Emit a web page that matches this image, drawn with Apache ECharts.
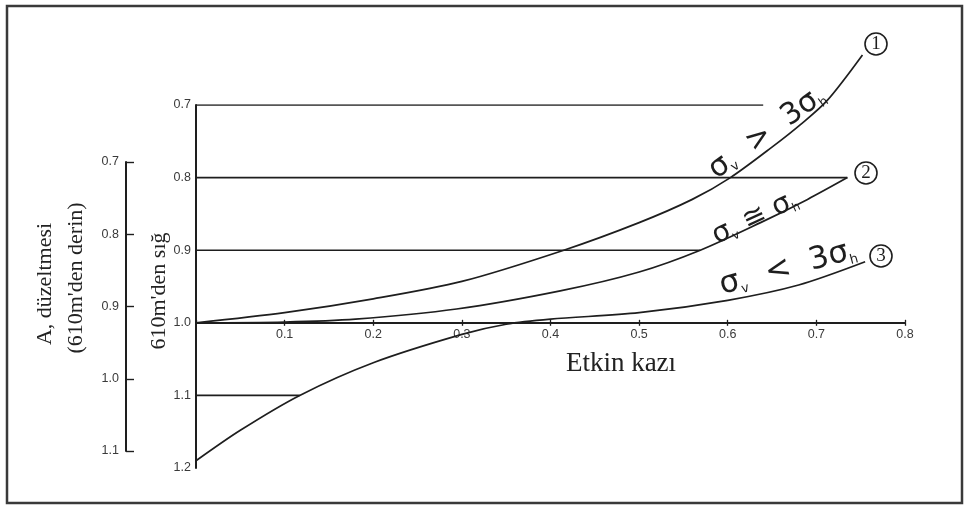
<!DOCTYPE html>
<html>
<head>
<meta charset="utf-8">
<script src="https://cdn.jsdelivr.net/npm/echarts@6/dist/echarts.min.js"></script>
<style>
  html, body { margin: 0; padding: 0; background: #fff; }
  #chart { width: 968px; height: 506px; }
</style>
</head>
<body>
<div id="chart"></div>
<script>
// Effective excavation axis (Etkin kazı)
const xMin = 0, xMax = 0.8, xStep = 0.1;
// Correction factor scale for depths shallower than 610 m
const yMainMin = 0.7, yMainMax = 1.2, yStep = 0.1;
// Correction factor scale for depths deeper than 610 m
const yDeepMin = 0.7, yDeepMax = 1.1;
const baseValue = 1.0;

// Horizontal reading lines: level and where each one stops on the x scale
const levelValues = [0.7, 0.8, 0.9, 1.1];
const levelEnds = [0.64, 0.735, 0.569, 0.117];

// Curve 1: σv > 3σh
const curve1 = [[0, 1.0], [0.1, 0.986], [0.2, 0.967], [0.3, 0.943], [0.415, 0.9], [0.5, 0.862],
  [0.56, 0.83], [0.603, 0.8], [0.651, 0.757], [0.682, 0.727], [0.712, 0.694], [0.752, 0.631]];
// Curve 2: σv ≅ σh
const curve2 = [[0, 1.0], [0.1, 0.999], [0.18, 0.995], [0.294, 0.981], [0.411, 0.956], [0.5, 0.93],
  [0.569, 0.9], [0.637, 0.862], [0.69, 0.83], [0.735, 0.8]];
// Curve 3: σv < 3σh
const curve3 = [[0, 1.19], [0.05, 1.148], [0.117, 1.1], [0.2, 1.055], [0.3, 1.016], [0.35, 1.002],
  [0.4, 0.995], [0.5, 0.986], [0.6, 0.969], [0.68, 0.948], [0.755, 0.916]];

const xTitle = 'Etkin kazı';
const leftTitle1 = 'A, düzeltmesi';
const leftTitle2 = "(610m'den derin)";
const leftTitle3 = "610m'den sığ";

const ink = '#1e1e1e';
const tickFont = { fontSize: 12.5, color: '#3a3a3a', fontFamily: 'Liberation Sans' };
const mainGrid = { left: 196, top: 105, width: 709, height: 363 };
const deepGrid = { left: 126, top: 162, width: 20, height: 289 };

// pixel offsets placing the x axis on the 1.0 level of the main scale
const offBottom = -(yMainMax - baseValue) / (yMainMax - yMainMin) * mainGrid.height;
const offTop = -(baseValue - yMainMin) / (yMainMax - yMainMin) * mainGrid.height;

const fmt = v => v.toFixed(1);

const levelSeries = levelValues.map((lv, i) => ({
  type: 'line', xAxisIndex: 0, yAxisIndex: 0, silent: true, symbol: 'none',
  lineStyle: { color: ink, width: 1.6 },
  data: [[xMin, lv], [levelEnds[i], lv]]
}));

const curveSeries = [curve1, curve2, curve3].map(c => ({
  type: 'line', xAxisIndex: 0, yAxisIndex: 0, silent: true, symbol: 'none', clip: false,
  smooth: 0.3, lineStyle: { color: ink, width: 1.7 }, data: c
}));

const sigmaRich = size => ({
  g: { fontSize: size, fontFamily: 'DejaVu Sans', fill: ink },
  u: { fontSize: Math.round(size * 0.42), fontFamily: 'DejaVu Sans', fill: ink, verticalAlign: 'bottom' }
});

function curveLabel(text, x, y, deg, size) {
  return {
    type: 'text', x: x, y: y, rotation: deg * Math.PI / 180, silent: true,
    style: { text: text, rich: sigmaRich(size), align: 'center', verticalAlign: 'middle' }
  };
}

function circleTag(num, x, y) {
  return {
    type: 'text', x: x, y: y, silent: true,
    style: {
      text: num, fontSize: 19, fontFamily: 'Liberation Serif', fill: ink,
      width: 22, height: 22, lineHeight: 22, align: 'center', verticalAlign: 'middle',
      borderColor: ink, borderWidth: 1.6, borderRadius: 12
    }
  };
}

function verticalTitle(text, x, y) {
  return {
    type: 'text', x: x, y: y, rotation: Math.PI / 2, silent: true,
    style: { text: text, fontSize: 22, fontFamily: 'Liberation Serif', fill: '#222', align: 'center', verticalAlign: 'middle' }
  };
}

const option = {
  animation: false,
  backgroundColor: '#fff',
  grid: [
    Object.assign({}, mainGrid, { containLabel: false }),
    Object.assign({}, deepGrid, { containLabel: false })
  ],
  xAxis: [
    {
      gridIndex: 0, type: 'value', min: xMin, max: xMax, interval: xStep,
      position: 'bottom', offset: offBottom,
      axisLine: { show: true, lineStyle: { color: ink, width: 2 } },
      axisTick: { show: true, length: 3, lineStyle: { color: ink, width: 1.3 } },
      axisLabel: Object.assign({ showMinLabel: false, formatter: fmt, margin: 5 }, tickFont),
      splitLine: { show: false }
    },
    {
      gridIndex: 0, type: 'value', min: xMin, max: xMax, interval: xStep,
      position: 'top', offset: offTop,
      axisLine: { show: false },
      axisTick: { show: true, length: 3, lineStyle: { color: ink, width: 1.3 } },
      axisLabel: { show: false },
      splitLine: { show: false }
    },
    { gridIndex: 1, type: 'value', show: false, min: 0, max: 1 }
  ],
  yAxis: [
    {
      gridIndex: 0, type: 'value', inverse: true, min: yMainMin, max: yMainMax, interval: yStep,
      axisLine: { show: true, lineStyle: { color: ink, width: 2 } },
      axisTick: { show: false },
      axisLabel: Object.assign({ formatter: fmt, margin: 5 }, tickFont),
      splitLine: { show: false }
    },
    {
      gridIndex: 1, type: 'value', inverse: true, min: yDeepMin, max: yDeepMax, interval: yStep,
      position: 'left',
      axisLine: { show: true, lineStyle: { color: ink, width: 2 } },
      axisTick: { show: true, inside: true, length: 8, lineStyle: { color: ink, width: 1.4 } },
      axisLabel: Object.assign({ formatter: fmt, margin: 7 }, tickFont),
      splitLine: { show: false }
    }
  ],
  series: levelSeries.concat(curveSeries),
  graphic: [
    { type: 'rect', silent: true, shape: { x: 7, y: 6, width: 955, height: 497 },
      style: { fill: 'none', stroke: '#3a3a3a', lineWidth: 2.5 } },
    { type: 'text', x: 621, y: 364, silent: true,
      style: { text: xTitle, fontSize: 27, fontFamily: 'Liberation Serif', fill: '#222', align: 'center', verticalAlign: 'middle' } },
    verticalTitle(leftTitle1, 45, 284),
    verticalTitle(leftTitle2, 76, 278),
    verticalTitle(leftTitle3, 159, 291),
    curveLabel('{g|σ}{u|v}{g|  >  3σ}{u|h}', 767, 133, 36, 30),
    curveLabel('{g|σ}{u|v}{g| ≅ σ}{u|h}', 755, 218, 25, 28),
    curveLabel('{g|σ}{u|v}{g|  <  3σ}{u|h}', 788, 268, 15, 31),
    circleTag('1', 876, 44),
    circleTag('2', 866, 173),
    circleTag('3', 881, 256)
  ]
};

const chart = echarts.init(document.getElementById('chart'), null, { renderer: 'canvas' });
chart.setOption(option);
</script>
</body>
</html>
